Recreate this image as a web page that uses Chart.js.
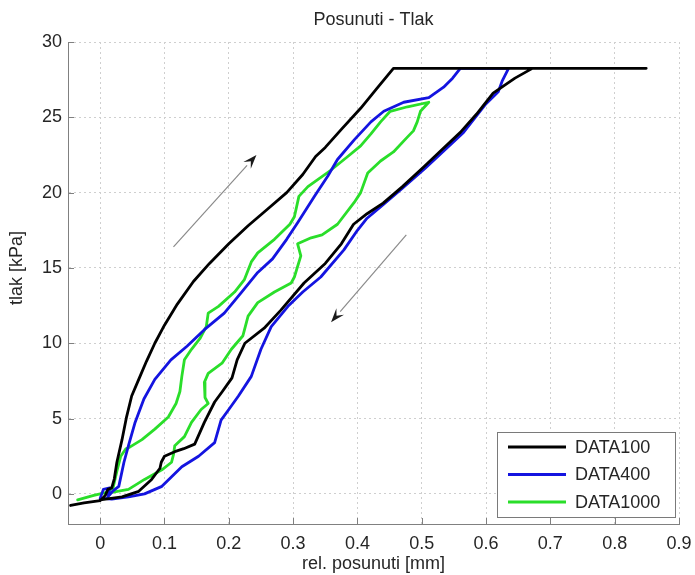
<!DOCTYPE html>
<html>
<head>
<meta charset="utf-8">
<script src="https://cdn.jsdelivr.net/npm/chart.js@4.4.1/dist/chart.umd.min.js"></script>
<style>
  body { margin: 0; background: #fff; }
</style>
</head>
<body>
<canvas id="myChart" width="695" height="575"></canvas>
<script>
'use strict';
const seriesNames = ['DATA100', 'DATA400', 'DATA1000'];
const seriesColors = ['#000000', '#1414e0', '#2ade2a'];

// DATA100 - loading, top, unloading
const data100X = [-0.046, -0.025, 0.0, 0.008, 0.012, 0.018, 0.022, 0.026, 0.034, 0.041, 0.049, 0.06, 0.072, 0.085, 0.1, 0.12, 0.145, 0.17, 0.2, 0.23, 0.26, 0.29, 0.315, 0.335, 0.35, 0.375, 0.405, 0.43, 0.456, 0.849,
  0.672, 0.645, 0.611, 0.585, 0.56, 0.53, 0.503, 0.47, 0.44, 0.415, 0.394, 0.375, 0.35, 0.317, 0.281, 0.255, 0.225, 0.213, 0.205, 0.19, 0.178, 0.162, 0.147, 0.13, 0.116, 0.1, 0.095, 0.093, 0.08, 0.06, 0.034, 0.0];
const data100Y = [-0.77, -0.6, -0.45, -0.1, 0.3, 0.4, 1.0, 2.1, 3.6, 5.1, 6.5, 7.6, 8.8, 10.0, 11.2, 12.6, 14.1, 15.3, 16.6, 17.8, 18.9, 20.0, 21.2, 22.4, 23.0, 24.2, 25.6, 26.9, 28.25, 28.25,
  28.25, 27.6, 26.6, 25.2, 24.0, 22.8, 21.7, 20.4, 19.3, 18.6, 17.9, 16.6, 15.3, 14.0, 12.2, 11.0, 10.0, 8.9, 7.7, 6.8, 6.1, 4.75, 3.3, 3.0, 2.8, 2.5, 2.1, 1.7, 0.96, 0.17, -0.2, -0.4];

// DATA400
const data400X = [0.0, 0.005, 0.015, 0.012, 0.02, 0.029, 0.037, 0.044, 0.054, 0.068, 0.085, 0.11, 0.135, 0.162, 0.193, 0.22, 0.245, 0.268, 0.29, 0.307, 0.333, 0.354, 0.369, 0.395, 0.421, 0.441, 0.472, 0.511, 0.534, 0.548, 0.56, 0.635,
  0.625, 0.619, 0.6, 0.565, 0.53, 0.505, 0.47, 0.44, 0.415, 0.4, 0.379, 0.343, 0.315, 0.292, 0.266, 0.25, 0.235, 0.215, 0.2, 0.188, 0.178, 0.153, 0.127, 0.096, 0.069, 0.044, 0.018, 0.005];
const data400Y = [-0.3, 0.3, 0.4, -0.2, 0.2, 0.5, 2.1, 3.2, 4.7, 6.3, 7.6, 8.9, 9.8, 10.9, 12.0, 13.4, 14.7, 15.6, 16.9, 18.0, 19.75, 21.1, 22.2, 23.5, 24.7, 25.4, 26.0, 26.3, 27.0, 27.6, 28.25, 28.25,
  27.4, 26.7, 25.9, 24.0, 22.6, 21.6, 20.3, 19.2, 18.3, 17.5, 16.2, 14.4, 13.4, 12.45, 11.1, 9.6, 7.8, 6.5, 5.6, 4.9, 3.4, 2.5, 1.8, 0.5, 0.0, -0.2, -0.35, -0.3];

// DATA1000
const data1000X = [-0.035, -0.01, 0.01, 0.02, 0.026, 0.032, 0.04, 0.046, 0.065, 0.085, 0.106, 0.118, 0.124, 0.127, 0.131, 0.142, 0.155, 0.165, 0.168, 0.184, 0.209, 0.224, 0.235, 0.245, 0.271, 0.295, 0.302, 0.309, 0.323, 0.359, 0.385, 0.405, 0.421, 0.436, 0.451, 0.478, 0.511,
  0.498, 0.493, 0.487, 0.478, 0.456, 0.436, 0.416, 0.405, 0.395, 0.369, 0.345, 0.328, 0.307, 0.312, 0.302, 0.297, 0.271, 0.245, 0.23, 0.222, 0.204, 0.19, 0.168, 0.162, 0.163, 0.168, 0.157, 0.142, 0.131, 0.116, 0.114, 0.111, 0.096, 0.069, 0.044, 0.018];
const data1000Y = [-0.4, -0.1, 0.1, 0.4, 1.5, 2.5, 3.0, 3.1, 3.6, 4.3, 5.1, 6.0, 6.8, 7.8, 8.9, 9.6, 10.3, 11.1, 12.0, 12.45, 13.4, 14.2, 15.4, 16.0, 16.9, 17.9, 18.4, 19.75, 20.4, 21.5, 22.4, 23.1, 23.9, 24.7, 25.4, 25.7, 26.0,
  25.4, 24.7, 24.1, 23.7, 22.7, 22.1, 21.3, 20.0, 19.35, 17.9, 17.2, 17.0, 16.6, 15.8, 14.4, 14.0, 13.4, 12.7, 11.8, 10.5, 9.6, 8.7, 8.0, 7.4, 6.4, 6.0, 5.6, 4.75, 3.8, 3.2, 2.6, 2.1, 1.6, 0.96, 0.3, 0.1];

const xTicks = [0, 0.1, 0.2, 0.3, 0.4, 0.5, 0.6, 0.7, 0.8, 0.9];
const yTicks = [0, 5, 10, 15, 20, 25, 30];

// arrows: [x start, y start, x tip, y tip]
const arrowUp = [0.114, 16.4, 0.243, 22.5];
const arrowDown = [0.476, 17.2, 0.359, 11.4];

const FONT = '"Liberation Sans", Arial, sans-serif';
const TEXT = '#262626';

function points(xs, ys) {
  let pts = [];
  for (let i = 0; i < xs.length; i++) {
    pts.push({x: xs[i], y: ys[i]});
  }
  return pts;
}

const allX = [data100X, data400X, data1000X];
const allY = [data100Y, data400Y, data1000Y];

let datasets = [];
for (let i = 0; i < seriesNames.length; i++) {
  datasets.push({
    label: seriesNames[i],
    data: points(allX[i], allY[i]),
    borderColor: seriesColors[i],
    backgroundColor: seriesColors[i],
    borderWidth: 2.8,
    showLine: true,
    pointRadius: 0,
    tension: 0,
    borderJoinStyle: 'round',
    borderCapStyle: 'round'
  });
}

// arrows drawn in data coordinates
const arrowPlugin = {
  id: 'arrows',
  afterDatasetsDraw(chart) {
    const ctx = chart.ctx;
    const xs = chart.scales.x, ys = chart.scales.y;
    [arrowUp, arrowDown].forEach(a => {
      const x1 = xs.getPixelForValue(a[0]), y1 = ys.getPixelForValue(a[1]);
      const x2 = xs.getPixelForValue(a[2]), y2 = ys.getPixelForValue(a[3]);
      const ang = Math.atan2(y2 - y1, x2 - x1);
      const len = 14, half = 5;
      const bx = x2 - len * Math.cos(ang), by = y2 - len * Math.sin(ang);
      ctx.save();
      ctx.strokeStyle = '#8a8a8a';
      ctx.lineWidth = 1.2;
      ctx.beginPath();
      ctx.moveTo(x1, y1);
      ctx.lineTo(bx, by);
      ctx.stroke();
      ctx.fillStyle = '#1a1a1a';
      ctx.beginPath();
      ctx.moveTo(x2, y2);
      ctx.lineTo(bx + half * Math.sin(ang), by - half * Math.cos(ang));
      ctx.lineTo(x2 - 0.6 * len * Math.cos(ang), y2 - 0.6 * len * Math.sin(ang));
      ctx.lineTo(bx - half * Math.sin(ang), by + half * Math.cos(ang));
      ctx.closePath();
      ctx.fill();
      ctx.restore();
    });
  }
};

// legend box inside the plot, lower right
const legendPlugin = {
  id: 'legendBox',
  afterDatasetsDraw(chart) {
    const ctx = chart.ctx, area = chart.chartArea;
    const w = 178, h = 85;
    const x0 = area.right - 4 - w, y0 = area.bottom - 7 - h;
    ctx.save();
    ctx.fillStyle = '#fff';
    ctx.fillRect(x0, y0, w, h);
    ctx.strokeStyle = '#7a7a7a';
    ctx.lineWidth = 1;
    ctx.strokeRect(Math.round(x0) + 0.5, Math.round(y0) + 0.5, w, h);
    chart.data.datasets.forEach((ds, i) => {
      const y = y0 + 15 + i * 27.5;
      ctx.strokeStyle = ds.borderColor;
      ctx.lineWidth = 3;
      ctx.beginPath();
      ctx.moveTo(x0 + 11, y);
      ctx.lineTo(x0 + 69, y);
      ctx.stroke();
      ctx.fillStyle = TEXT;
      ctx.font = '18px ' + FONT;
      ctx.textBaseline = 'middle';
      ctx.textAlign = 'left';
      ctx.fillText(ds.label, x0 + 78, y + 1);
    });
    ctx.restore();
  }
};

// small inward tick marks on the left and bottom axes, plus the y axis label
const innerTicks = {
  id: 'innerTicks',
  afterDraw(chart) {
    const ctx = chart.ctx, area = chart.chartArea;
    const xs = chart.scales.x, ys = chart.scales.y;
    ctx.save();
    ctx.strokeStyle = '#808080';
    ctx.lineWidth = 1;
    ctx.beginPath();
    xTicks.forEach(v => {
      const px = Math.round(xs.getPixelForValue(v)) + 0.5;
      ctx.moveTo(px, area.bottom);
      ctx.lineTo(px, area.bottom - 6);
    });
    yTicks.forEach(v => {
      const py = Math.round(ys.getPixelForValue(v)) + 0.5;
      ctx.moveTo(area.left, py);
      ctx.lineTo(area.left + 6, py);
    });
    ctx.stroke();

    ctx.translate(17, (area.top + area.bottom) / 2 - 15);
    ctx.rotate(-Math.PI / 2);
    ctx.fillStyle = TEXT;
    ctx.font = '18px ' + FONT;
    ctx.textAlign = 'center';
    ctx.textBaseline = 'middle';
    ctx.fillText('tlak [kPa]', 0, 0);
    ctx.restore();
  }
};

const context = document.getElementById('myChart').getContext('2d');
const chart = new Chart(context, {
  type: 'scatter',
  data: { datasets: datasets },
  options: {
    responsive: false,
    animation: false,
    layout: { padding: { left: 0, right: 16, top: 0, bottom: 0 } },
    plugins: {
      legend: { display: false },
      tooltip: { enabled: false },
      title: {
        display: true,
        text: 'Posunuti - Tlak',
        fullSize: false,
        color: TEXT,
        font: { family: FONT, size: 18, weight: 'normal', lineHeight: 1.2 },
        padding: { top: 9, bottom: 11.4 }
      }
    },
    scales: {
      x: {
        type: 'linear',
        min: -0.05,
        max: 0.9,
        afterBuildTicks: s => { s.ticks = xTicks.map(v => ({ value: v })); },
        afterFit: s => { s.height = 51; s.paddingLeft = 0; s.paddingRight = 0; },
        ticks: { color: TEXT, font: { family: FONT, size: 18 }, padding: 9, maxRotation: 0 },
        grid: { color: '#cfcfcf', lineWidth: 1, drawTicks: false },
        border: { display: true, color: '#808080', width: 1, dash: [2, 3] },
        title: { display: true, text: 'rel. posunuti [mm]', color: TEXT, font: { family: FONT, size: 18 }, padding: { top: 0, bottom: 0 } }
      },
      y: {
        type: 'linear',
        min: -2,
        max: 30,
        afterBuildTicks: s => { s.ticks = yTicks.map(v => ({ value: v })); },
        afterFit: s => { s.width = 68; s.paddingTop = 0; s.paddingBottom = 0; },
        ticks: { color: TEXT, font: { family: FONT, size: 18 }, padding: 6 },
        grid: { color: '#cfcfcf', lineWidth: 1, drawTicks: false },
        border: { display: true, color: '#808080', width: 1, dash: [2, 3] },
        title: { display: false }
      }
    }
  },
  plugins: [arrowPlugin, legendPlugin, innerTicks]
});
</script>
</body>
</html>
